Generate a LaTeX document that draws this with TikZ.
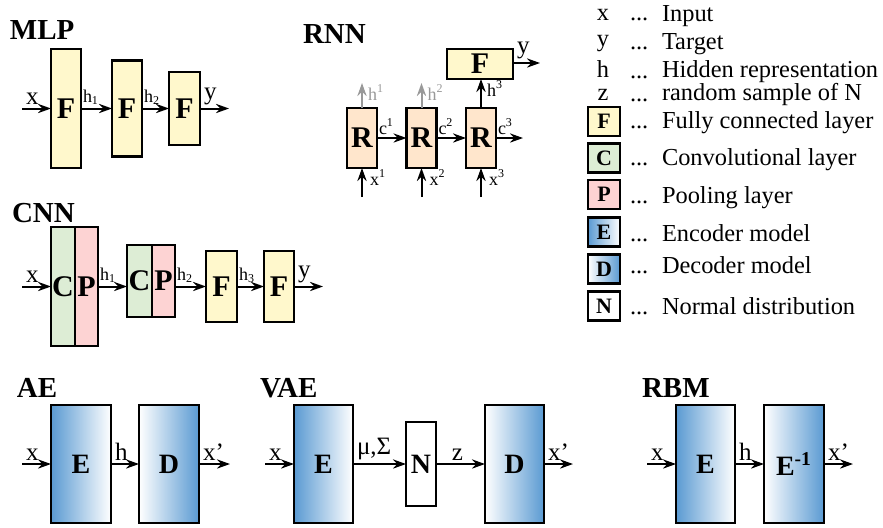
\documentclass[tikz,border=0pt]{standalone}
\usepackage{fontspec}
\setmainfont{Liberation Serif}
\usetikzlibrary{arrows.meta}
\definecolor{fcol}{HTML}{FFF8CC}
\definecolor{rcol}{HTML}{FFE6CC}
\definecolor{ccol}{HTML}{DDEDD5}
\definecolor{pcol}{HTML}{FDD3D3}
\definecolor{ecol}{HTML}{5A9AD2}
\definecolor{hgray}{HTML}{999999}
\begin{document}
\begin{tikzpicture}[x=0.5pt,y=-0.5pt,inner sep=0pt,outer sep=0pt,line width=1pt,
>={Stealth[length=6.5pt,width=4.6pt]},
layer/.style={draw,rectangle,line width=1.3pt,font=\fontsize{15}{18}\selectfont\bfseries},
model/.style={draw,rectangle,line width=1.3pt,font=\fontsize{14}{17}\selectfont\bfseries},
keybox/.style={draw,rectangle,line width=1.3pt,minimum width=16pt,minimum height=14.5pt,font=\fontsize{11}{13}\selectfont\bfseries},
enc/.style={left color=ecol,right color=white},
dec/.style={left color=white,right color=ecol},
title/.style={anchor=base west,font=\fontsize{14.5}{17}\selectfont\bfseries},
lab/.style={inner sep=2pt,font=\fontsize{12.5}{15}\selectfont},
sml/.style={inner sep=0pt,font=\fontsize{9}{11}\selectfont},
leg/.style={inner sep=0pt,anchor=base west,font=\fontsize{12.2}{14}\selectfont}]
\useasboundingbox (0,0) rectangle (883,527);

% MLP
\draw (10,39) node[title] (tmlp) {MLP};
\draw (66,108.5) node[layer,fill=fcol,minimum width=15pt,minimum height=59.5pt] (f1) {F};
\draw (127,108.5) node[layer,fill=fcol,minimum width=15pt,minimum height=48pt] (f2) {F};
\draw (184.5,108.5) node[layer,fill=fcol,minimum width=15.5pt,minimum height=36.5pt] (f3) {F};
\coordinate (mx) at (22,108.5);
\coordinate (my) at (229,108.5);
\draw[->] (mx) node[lab,above right] {x} -- (f1);
\draw[->] (f1) -- node[sml,pos=0,anchor=base west,xshift=1pt,yshift=3pt] {h\textsubscript{1}} (f2);
\draw[->] (f2) -- node[sml,pos=0,anchor=base west,xshift=1pt,yshift=3pt] {h\textsubscript{2}} (f3);
\draw[->] (f3) -- (my) node[lab,pos=0,above right] {y};

% RNN
\draw (303,43) node[title] (trnn) {RNN};
\draw (362,138) node[layer,fill=rcol,minimum width=15pt,minimum height=30pt] (r1) {R};
\draw (421.5,138) node[layer,fill=rcol,minimum width=15pt,minimum height=30pt] (r2) {R};
\draw (481,138) node[layer,fill=rcol,minimum width=15pt,minimum height=30pt] (r3) {R};
\draw (480,64) node[layer,fill=fcol,minimum width=33pt,minimum height=15pt] (fr) {F};
\coordinate (ry) at (540,63);
\coordinate (rc) at (523,138);
\coordinate (rh1) at (362,83);
\coordinate (rh2) at (421.5,83);
\coordinate (rx1) at (362,197);
\coordinate (rx2) at (421.5,197);
\coordinate (rx3) at (481,197);
\draw[->] (r1) -- node[sml,pos=0,anchor=base west,xshift=1pt,yshift=2pt] {c\textsuperscript{1}} (r2);
\draw[->] (r2) -- node[sml,pos=0,anchor=base west,xshift=1pt,yshift=2pt] {c\textsuperscript{2}} (r3);
\draw[->] (r3) -- node[sml,pos=0,anchor=base west,xshift=1pt,yshift=2pt] {c\textsuperscript{3}} (rc);
\draw[->,hgray] (r1.north) -- (rh1) node[sml,anchor=north west,xshift=3pt,yshift=-1pt] {h\textsuperscript{1}};
\draw[->,hgray] (r2.north) -- (rh2) node[sml,anchor=north west,xshift=3pt,yshift=-1pt] {h\textsuperscript{2}};
\draw[->] (r3.north) -- (r3.north |- fr.south) node[sml,anchor=north west,xshift=3pt,yshift=-1pt] {h\textsuperscript{3}};
\draw[->] (fr.east |- ry) -- (ry) node[lab,pos=0,above right] {y};
\draw[->] (rx1) -- (r1.south) node[sml,anchor=north west,xshift=4pt,yshift=-1pt] {x\textsuperscript{1}};
\draw[->] (rx2) -- (r2.south) node[sml,anchor=north west,xshift=4pt,yshift=-1pt] {x\textsuperscript{2}};
\draw[->] (rx3) -- (r3.south) node[sml,anchor=north west,xshift=4pt,yshift=-1pt] {x\textsuperscript{3}};

% CNN
\draw (12,222) node[title] (tcnn) {CNN};
\draw (63,286.5) node[layer,fill=ccol,minimum width=12pt,minimum height=59.5pt] (c1) {C};
\draw (86.5,286.5) node[layer,fill=pcol,minimum width=11.5pt,minimum height=59.5pt] (p1) {P};
\draw (139.5,281) node[layer,fill=ccol,minimum width=12.5pt,minimum height=36pt] (c2) {C};
\draw (163.5,281) node[layer,fill=pcol,minimum width=11.5pt,minimum height=36pt] (p2) {P};
\draw (221.5,286.5) node[layer,fill=fcol,minimum width=15.5pt,minimum height=35.5pt] (cf1) {F};
\draw (279,286.5) node[layer,fill=fcol,minimum width=15pt,minimum height=35.5pt] (cf2) {F};
\coordinate (cx) at (22,286.5);
\coordinate (cy) at (323,286.5);
\draw[->] (cx) node[lab,above right] {x} -- (c1);
\draw[->] (p1) -- node[sml,pos=0,anchor=base west,xshift=1pt,yshift=3pt] {h\textsubscript{1}} (c2.west |- p1);
\draw[->] (p2.east |- cf1) -- node[sml,pos=0,anchor=base west,xshift=1pt,yshift=3pt] {h\textsubscript{2}} (cf1);
\draw[->] (cf1) -- node[sml,pos=0,anchor=base west,xshift=1pt,yshift=3pt] {h\textsubscript{3}} (cf2);
\draw[->] (cf2) -- (cy) node[lab,pos=0,above right] {y};

% legend
\draw (603,20) node[leg,anchor=base] (sx) {x};
\draw (603,46) node[leg,anchor=base] (sy) {y};
\draw (603,77) node[leg,anchor=base] (sh) {h};
\draw (603,100) node[leg,anchor=base] (sz) {z};
\draw (604,121.5) node[keybox,fill=fcol] (kf) {F};
\draw (604,158) node[keybox,fill=ccol] (kc) {C};
\draw (604,194.5) node[keybox,fill=pcol] (kp) {P};
\draw (604,232) node[keybox,enc] (ke) {E};
\draw (604,269) node[keybox,dec] (kd) {D};
\draw (604,306) node[keybox,fill=white] (kn) {N};
\draw (630,20) node[leg] (dx) {...};
\draw (630,49) node[leg] (dy) {...};
\draw (630,78) node[leg] (dh) {...};
\draw (630,101) node[leg] (dz) {...};
\draw (630,128) node[leg] (df) {...};
\draw (630,165) node[leg] (dc) {...};
\draw (630,203) node[leg] (dp) {...};
\draw (630,241) node[leg] (de) {...};
\draw (630,273) node[leg] (dd) {...};
\draw (630,314) node[leg] (dn) {...};
\draw (662,21) node[leg] (lx) {Input};
\draw (662,49) node[leg] (ly) {Target};
\draw (662,77) node[leg] (lh) {Hidden representation};
\draw (662,100) node[leg] (lz) {random sample of N};
\draw (662,128) node[leg] (lf) {Fully connected layer};
\draw (662,165) node[leg] (lc) {Convolutional layer};
\draw (662,203) node[leg] (lp) {Pooling layer};
\draw (662,241) node[leg] (le) {Encoder model};
\draw (662,273) node[leg] (ld) {Decoder model};
\draw (662,314) node[leg] (ln) {Normal distribution};

% AE
\draw (17,397) node[title] (tae) {AE};
\draw (81,464) node[model,enc,minimum width=30pt,minimum height=59pt] (ae1) {E};
\draw (169,464) node[model,dec,minimum width=30pt,minimum height=59pt] (ae2) {D};
\coordinate (aex) at (22,464);
\coordinate (aey) at (230,464);
\draw[->] (aex) node[lab,above right] {x} -- (ae1);
\draw[->] (ae1) -- node[lab,pos=0,above right] {h} (ae2);
\draw[->] (ae2) -- (aey) node[lab,pos=0,above right] {x'};

% VAE
\draw (260,397) node[title] (tvae) {VAE};
\draw (323.5,464) node[model,enc,minimum width=29.5pt,minimum height=59pt] (ve) {E};
\draw (421,464) node[model,fill=white,minimum width=15pt,minimum height=42pt] (vn) {N};
\draw (514.5,464) node[model,dec,minimum width=29.5pt,minimum height=59pt] (vd) {D};
\coordinate (vex) at (265,464);
\coordinate (vey) at (573,464);
\draw[->] (vex) node[lab,above right] {x} -- (ve);
\draw[->] (ve) -- node[lab,pos=0,above right] {μ,Σ} (vn);
\draw[->] (vn) -- node[lab,midway,above,xshift=-1.5pt] {z} (vd);
\draw[->] (vd) -- (vey) node[lab,pos=0,above right] {x'};

% RBM
\draw (642,397) node[title] (trbm) {RBM};
\draw (705.5,464) node[model,enc,minimum width=29.5pt,minimum height=59pt] (be) {E};
\draw (794,464) node[model,dec,minimum width=30pt,minimum height=59pt] (bi) {E\textsuperscript{-1}};
\coordinate (bex) at (647,464);
\coordinate (bey) at (853,464);
\draw[->] (bex) node[lab,above right] {x} -- (be);
\draw[->] (be) -- node[lab,pos=0,above right] {h} (bi);
\draw[->] (bi) -- (bey) node[lab,pos=0,above right] {x'};
\end{tikzpicture}
\end{document}
